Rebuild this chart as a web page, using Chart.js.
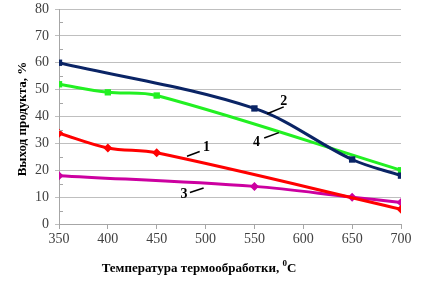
<!DOCTYPE html>
<html lang="ru">
<head>
    <meta charset="UTF-8">
    <title>Выход продукта</title>
    <script src="https://cdn.jsdelivr.net/npm/chart.js"></script>
    <style>
        html, body { margin: 0; padding: 0; background: #fff; }
        #wrap { width: 447px; height: 290px; position: relative; }
    </style>
</head>
<body>
    <div id="wrap"><canvas id="yieldChart"></canvas></div>
    <script>
        // Данные
        const temps1 = [350, 400, 450, 700];
        const yield1 = [33.8, 28.3, 26.5, 5.5];
        const temps2 = [350, 550, 650, 700];
        const yield2 = [60, 43, 24, 18];
        const temps3 = [350, 550, 650, 700];
        const yield3 = [18, 14, 10, 8];
        const temps4 = [350, 400, 450, 700];
        const yield4 = [52, 49, 47.8, 20];

        const xTicks = [350, 400, 450, 500, 550, 600, 650, 700];
        const yTicks = [0, 10, 20, 30, 40, 50, 60, 70, 80];

        // подписи кривых: номер, позиция текста и выноска (в координатах данных)
        const curveLabels = [
            { text: '1', tx: 501, ty: 28.5, from: [481, 25.2], to: [494, 27.0] },
            { text: '2', tx: 580, ty: 45.5, from: [563, 41.0], to: [580, 43.6] },
            { text: '3', tx: 478, ty: 11.0, from: [484, 11.7], to: [498, 13.4] },
            { text: '4', tx: 552, ty: 30.5, from: [560, 32.0], to: [575, 34.0] }
        ];

        const pts = (xs, ys) => xs.map((x, i) => ({ x: x, y: ys[i] }));

        function series(label, xs, ys, color, marker, r) {
            return {
                label: label,
                data: pts(xs, ys),
                borderColor: color,
                backgroundColor: color,
                borderWidth: 3,
                pointStyle: marker,
                pointRadius: r,
                pointBorderWidth: 0,
                tension: 0.35
            };
        }

        // мелкие засечки, подписи кривых и подпись оси X
        const extras = {
            id: 'extras',
            afterDraw(chart) {
                const ctx = chart.ctx;
                const xs = chart.scales.x, ys = chart.scales.y;
                ctx.save();
                ctx.strokeStyle = '#a6a6a6';
                ctx.lineWidth = 1;
                for (let v = 5; v < 80; v += 10) {
                    const py = Math.round(ys.getPixelForValue(v)) + 0.5;
                    ctx.beginPath();
                    ctx.moveTo(xs.left, py);
                    ctx.lineTo(xs.left + 4, py);
                    ctx.stroke();
                }
                ctx.font = 'bold 14px "Liberation Serif"';
                ctx.fillStyle = '#000';
                ctx.strokeStyle = '#000';
                ctx.lineWidth = 1.5;
                ctx.textAlign = 'center';
                ctx.textBaseline = 'middle';
                curveLabels.forEach(l => {
                    ctx.beginPath();
                    ctx.moveTo(xs.getPixelForValue(l.from[0]), ys.getPixelForValue(l.from[1]));
                    ctx.lineTo(xs.getPixelForValue(l.to[0]), ys.getPixelForValue(l.to[1]));
                    ctx.stroke();
                    ctx.fillText(l.text, xs.getPixelForValue(l.tx), ys.getPixelForValue(l.ty));
                });
                // подпись оси X с надстрочным нулём
                const main = 'Температура термообработки, ';
                ctx.font = 'bold 13px "Liberation Serif"';
                const w1 = ctx.measureText(main).width;
                ctx.font = 'bold 9px "Liberation Serif"';
                const w2 = ctx.measureText('0').width;
                ctx.font = 'bold 13px "Liberation Serif"';
                const w3 = ctx.measureText('C').width;
                let x0 = 199 - (w1 + w2 + w3) / 2;
                const y0 = 268;
                ctx.textAlign = 'left';
                ctx.textBaseline = 'alphabetic';
                ctx.fillText(main, x0, y0 + 4);
                ctx.font = 'bold 9px "Liberation Serif"';
                ctx.fillText('0', x0 + w1, y0 - 2);
                ctx.font = 'bold 13px "Liberation Serif"';
                ctx.fillText('C', x0 + w1 + w2, y0 + 4);
                // подпись оси Y
                ctx.translate(23, 119);
                ctx.rotate(-Math.PI / 2);
                ctx.textAlign = 'center';
                ctx.textBaseline = 'middle';
                ctx.fillText('Выход продукта, %', 0, 0);
                ctx.restore();
            }
        };

        new Chart(document.getElementById('yieldChart').getContext('2d'), {
            type: 'line',
            data: {
                datasets: [
                    series('1', temps1, yield1, '#ff0000', 'rectRot', 4.5),
                    series('2', temps2, yield2, '#0a2465', 'rect', 4.5),
                    series('3', temps3, yield3, '#cc00a0', 'rectRot', 4.5),
                    series('4', temps4, yield4, '#22f022', 'rect', 4.5)
                ]
            },
            options: {
                responsive: true,
                maintainAspectRatio: false,
                animation: false,
                layout: { padding: { left: 0, right: 46, top: 9, bottom: 0 } },
                plugins: { legend: { display: false }, tooltip: { enabled: false } },
                scales: {
                    x: {
                        type: 'linear',
                        min: 350,
                        max: 700,
                        afterBuildTicks: s => { s.ticks = xTicks.map(v => ({ value: v })); },
                        afterFit: s => { s.height = 66; s.paddingLeft = 0; s.paddingRight = 0; },
                        grid: { display: true, drawOnChartArea: false, color: '#a6a6a6', tickLength: 5 },
                        border: { color: '#a6a6a6' },
                        ticks: { color: '#404040', font: { family: 'Liberation Serif', size: 14 }, padding: 2, maxRotation: 0 }
                    },
                    y: {
                        min: 0,
                        max: 80,
                        afterBuildTicks: s => { s.ticks = yTicks.map(v => ({ value: v })); },
                        afterFit: s => { s.width = 59; s.paddingTop = 0; s.paddingBottom = 0; },
                        grid: { color: '#bfbfbf', tickLength: 4 },
                        border: { color: '#a6a6a6' },
                        ticks: { color: '#404040', font: { family: 'Liberation Serif', size: 14 }, padding: 6 }
                    }
                }
            },
            plugins: [extras]
        });
    </script>
</body>
</html>
